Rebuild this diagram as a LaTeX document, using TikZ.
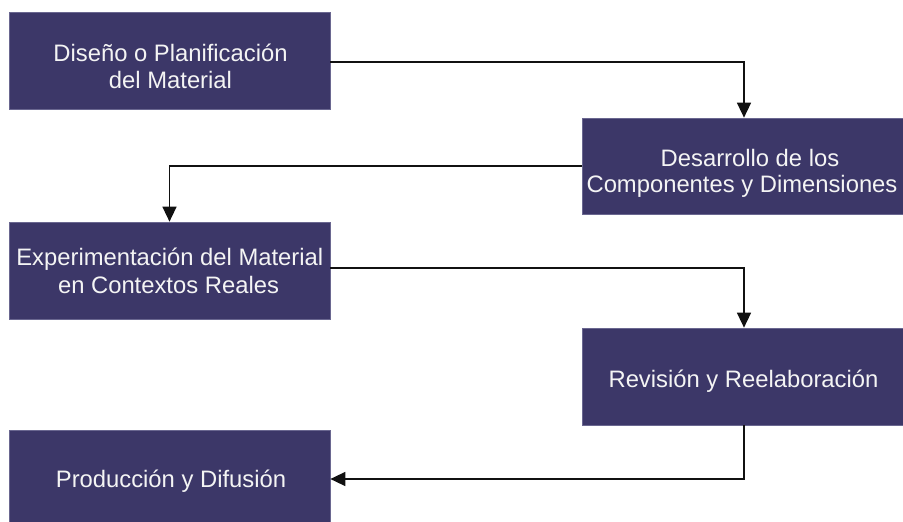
\documentclass[tikz,border=0pt]{standalone}
\usepackage{fontspec}
\setmainfont{Liberation Sans}
\usetikzlibrary{arrows.meta}
\definecolor{boxfill}{HTML}{3C3768}
\definecolor{boxedge}{HTML}{6A6790}
\definecolor{linecol}{HTML}{111111}
\definecolor{txtcol}{HTML}{F4F4F4}
\begin{document}
\begin{tikzpicture}[x=1pt,y=-1pt,
  stagebox/.style={rectangle, fill=boxfill, draw=boxedge, line width=0.7pt,
    inner sep=0pt, minimum width=321pt, minimum height=97pt},
  widebox/.style={stagebox, minimum width=324pt},
  lbl/.style={anchor=base, inner sep=0pt, text=txtcol,
    font=\fontsize{23.8}{28}\selectfont},
  conn/.style={draw=linecol, line width=1.5pt,
    -{Triangle[width=14pt,length=15pt]}}]
\useasboundingbox (0,0) rectangle (903,522);

% process stages
\node[stagebox] (b1) at (169.5,60.5) {};
\node[widebox, minimum height=96pt] (b2) at (744,166) {};
\node[stagebox] (b3) at (169.5,270.5) {};
\node[widebox] (b4) at (744,376.5) {};
\node[stagebox] (b5) at (169.5,479) {};

% stage labels
\node[lbl] (t1a) at (170.5,61.7) {Diseño o Planificación};
\node[lbl] (t1b) at (170.5,88.3) {del Material};
\node[lbl] (t2a) at (750,166.7) {Desarrollo de los};
\node[lbl] (t2b) at (742,192.3) {Componentes y Dimensiones};
\node[lbl] (t3a) at (169.8,265) {Experimentación del Material};
\node[lbl] (t3b) at (168.5,293) {en Contextos Reales};
\node[lbl] (t4) at (743.5,387) {Revisión y Reelaboración};
\node[lbl] (t5) at (171,487) {Producción y Difusión};

% flow between stages
\draw[conn] ([yshift=-1.5pt]b1.east) -| (b2.north);
\draw[conn] (b2.west) -| (b3.north);
\draw[conn] ([yshift=2.5pt]b3.east) -| (b4.north);
\draw[conn] (b4.south) |- (b5.east);
\end{tikzpicture}
\end{document}
